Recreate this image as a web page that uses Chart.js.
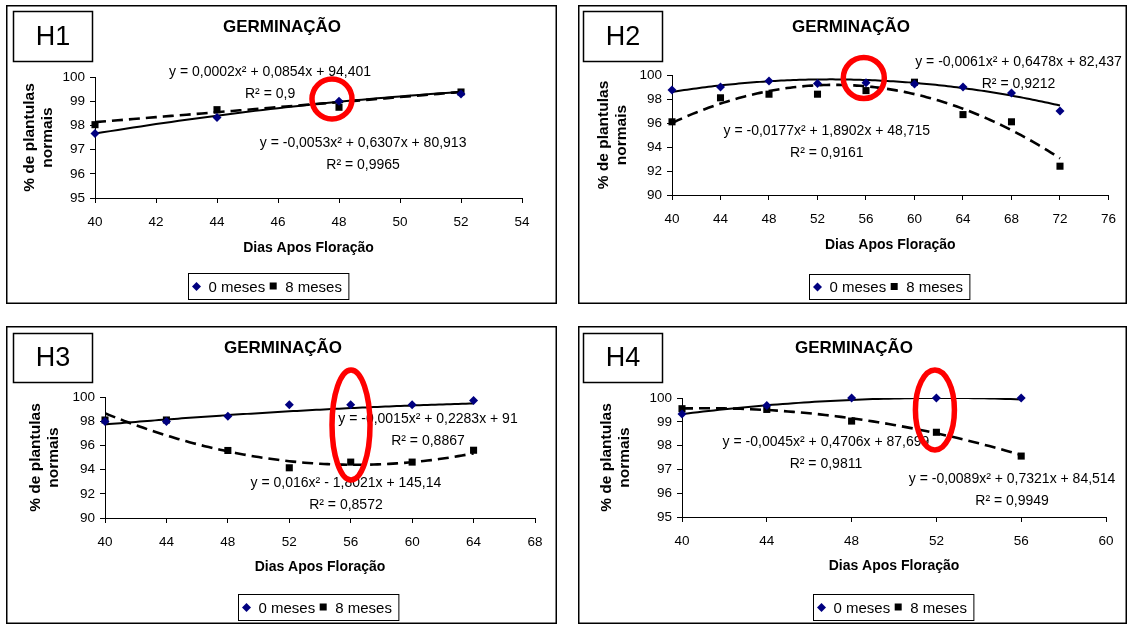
<!DOCTYPE html>
<html>
<head>
<meta charset="utf-8">
<script src="https://cdn.jsdelivr.net/npm/chart.js@4/dist/chart.umd.min.js"></script>
<style>
  html, body { margin: 0; padding: 0; background: #fff; width: 1129px; height: 626px; overflow: hidden; }
  canvas { position: absolute; }
</style>
</head>
<body>
<canvas id="h1" width="551" height="299" style="left:6px;top:5px"></canvas>
<canvas id="h2" width="549" height="299" style="left:578px;top:5px"></canvas>
<canvas id="h3" width="551" height="298" style="left:6px;top:326px"></canvas>
<canvas id="h4" width="549" height="298" style="left:578px;top:326px"></canvas>
<script>
// ---- H1 ----
const h1Days   = [40, 44, 48, 52];
const h1Germ0  = [97.67, 98.33, 99.0, 99.3];
const h1Germ8  = [98.03, 98.65, 98.75, 99.38];
const h1Coef0  = [-0.0053, 0.6307, 80.913];
const h1Coef8  = [0.0002, 0.0854, 94.401];
const h1Eq0    = ['y = -0,0053x² + 0,6307x + 80,913', 'R² = 0,9965'];
const h1Eq8    = ['y = 0,0002x² + 0,0854x + 94,401', 'R² = 0,9'];
const h1XTicks = [40, 42, 44, 46, 48, 50, 52, 54];
const h1YTicks = [95, 96, 97, 98, 99, 100];

// ---- H2 ----
const h2Days   = [40, 44, 48, 52, 56, 60, 64, 68, 72];
const h2Germ0  = [98.75, 99.0, 99.5, 99.3, 99.35, 99.25, 99.0, 98.5, 97.0];
const h2Germ8  = [96.1, 98.1, 98.4, 98.4, 98.7, 99.4, 96.7, 96.1, 92.4];
const h2Coef0  = [-0.0061, 0.6478, 82.437];
const h2Coef8  = [-0.0177, 1.8902, 48.715];
const h2Eq0    = ['y = -0,0061x² + 0,6478x + 82,437', 'R² = 0,9212'];
const h2Eq8    = ['y = -0,0177x² + 1,8902x + 48,715', 'R² = 0,9161'];
const h2XTicks = [40, 44, 48, 52, 56, 60, 64, 68, 72, 76];
const h2YTicks = [90, 92, 94, 96, 98, 100];

// ---- H3 ----
const h3Days   = [40, 44, 48, 52, 56, 60, 64];
const h3Germ0  = [97.97, 97.97, 98.4, 99.35, 99.35, 99.35, 99.72];
const h3Germ8  = [98.1, 98.1, 95.58, 94.15, 94.62, 94.62, 95.6];
const h3Coef0  = [-0.0015, 0.2283, 91];
const h3Coef8  = [0.016, -1.8021, 145.14];
const h3Eq0    = ['y = -0,0015x² + 0,2283x + 91', 'R² = 0,8867'];
const h3Eq8    = ['y = 0,016x² - 1,8021x + 145,14', 'R² = 0,8572'];
const h3XTicks = [40, 44, 48, 52, 56, 60, 64, 68];
const h3YTicks = [90, 92, 94, 96, 98, 100];

// ---- H4 ----
const h4Days   = [40, 44, 48, 52, 56];
const h4Germ0  = [99.33, 99.68, 100, 100, 100];
const h4Germ8  = [99.55, 99.52, 99.03, 98.56, 97.56];
const h4Coef0  = [-0.0045, 0.4706, 87.699];
const h4Coef8  = [-0.0089, 0.7321, 84.514];
const h4Eq0    = ['y = -0,0045x² + 0,4706x + 87,699', 'R² = 0,9811'];
const h4Eq8    = ['y = -0,0089x² + 0,7321x + 84,514', 'R² = 0,9949'];
const h4XTicks = [40, 44, 48, 52, 56, 60];
const h4YTicks = [95, 96, 97, 98, 99, 100];

const seriesNames = ['0 meses', '8 meses'];
const chartTitle = 'GERMINAÇÃO';
const xTitle = 'Dias Apos Floração';
const yTitle = ['% de plantulas', 'normais'];

const FONT = '"Liberation Sans", Arial, Helvetica, sans-serif';
Chart.defaults.font.family = FONT;
Chart.defaults.color = '#000';
Chart.defaults.animation = false;

// Trend curve from the printed quadratic coefficients, over the range of the data
function trendPoints(coef, days) {
  const pts = [];
  const a = days[0], b = days[days.length - 1];
  for (let x = a; x <= b + 1e-9; x += 0.25) {
    pts.push({ x, y: coef[0] * x * x + coef[1] * x + coef[2] });
  }
  return pts;
}

function diamond(ctx, x, y, r) {
  ctx.beginPath();
  ctx.moveTo(x, y - r); ctx.lineTo(x + r, y); ctx.lineTo(x, y + r); ctx.lineTo(x - r, y);
  ctx.closePath(); ctx.fill();
}

function buildPanel(p) {
  const canvas = document.getElementById(p.id);
  const W = canvas.width, H = canvas.height;
  const yTitleLH = 18;
  const xTitleLH = 17;
  const padLeft = p.yTitleX - yTitleLH / 2;
  const xScaleBottom = p.xTitleY + xTitleLH / 2;

  const decor = {
    id: 'decor' + p.id,
    afterDatasetsDraw(chart) {
      const ctx = chart.ctx;
      const sx = chart.scales.x, sy = chart.scales.y;
      ctx.save();
      ctx.fillStyle = '#000';
      ctx.font = '14px ' + FONT;
      ctx.textAlign = 'center';
      ctx.textBaseline = 'middle';
      p.labels.forEach(l => {
        const px = sx.getPixelForValue(l.at[0]);
        const py = sy.getPixelForValue(l.at[1]);
        l.text.forEach((t, i) => ctx.fillText(t, px, py + i * 22));
      });
      ctx.restore();
    },
    afterDraw(chart) {
      const ctx = chart.ctx;
      const sx = chart.scales.x, sy = chart.scales.y;
      ctx.save();
      // outer frame
      ctx.strokeStyle = '#000';
      ctx.lineWidth = 1.5;
      ctx.strokeRect(0.75, 0.75, W - 1.5, H - 1.5);
      // panel tag box
      const b = p.tagBox;
      ctx.strokeRect(b[0], b[1], b[2] - b[0], b[3] - b[1]);
      ctx.fillStyle = '#000';
      ctx.font = '27px ' + FONT;
      ctx.textAlign = 'center';
      ctx.textBaseline = 'middle';
      ctx.fillText(p.tag, (b[0] + b[2]) / 2, (b[1] + b[3]) / 2 + 1);
      // title
      ctx.font = 'bold 17px ' + FONT;
      ctx.fillText(chartTitle, p.titleX, 22);
      // legend
      const ds = chart.data.datasets;
      ctx.font = '15px ' + FONT;
      const w0 = ctx.measureText(ds[0].label).width;
      const w1 = ctx.measureText(ds[1].label).width;
      const total = 20 + w0 + 8 + 12 + w1 + 7;
      const lx = Math.round(p.legendX - total / 2) + 0.5;
      const lt = p.legendY[0] + 0.5, lb = p.legendY[1] + 0.5;
      const lc = (lt + lb) / 2;
      ctx.lineWidth = 1;
      ctx.strokeRect(lx, lt, total, lb - lt);
      ctx.fillStyle = ds[0].backgroundColor;
      diamond(ctx, lx + 8, lc, 4.5);
      ctx.fillStyle = '#000';
      ctx.textAlign = 'left';
      ctx.fillText(ds[0].label, lx + 20, lc + 1);
      const sqx = lx + 20 + w0 + 8;
      ctx.fillStyle = ds[1].backgroundColor;
      ctx.fillRect(sqx - 3.5, lc - 4, 7, 7);
      ctx.fillStyle = '#000';
      ctx.fillText(ds[1].label, sqx + 12, lc + 1);
      // red highlight ring
      ctx.strokeStyle = '#ff0000';
      ctx.lineWidth = 5.5;
      ctx.beginPath();
      ctx.ellipse(sx.getPixelForValue(p.ring.at[0]), sy.getPixelForValue(p.ring.at[1]),
                  p.ring.rx, p.ring.ry, 0, 0, Math.PI * 2);
      ctx.stroke();
      ctx.restore();
    }
  };

  const xs = p.xTicks, ys = p.yTicks;
  return new Chart(canvas, {
    type: 'scatter',
    data: {
      datasets: [
        {
          label: seriesNames[0],
          data: p.days.map((d, i) => ({ x: d, y: p.g0[i] })),
          pointStyle: 'rectRot', pointRadius: 4.5, pointHoverRadius: 4.5,
          backgroundColor: '#000080', borderColor: '#000080', borderWidth: 0,
          showLine: false, clip: false
        },
        {
          label: seriesNames[1],
          data: p.days.map((d, i) => ({ x: d, y: p.g8[i] })),
          pointStyle: 'rect', pointRadius: 5, pointHoverRadius: 5,
          backgroundColor: '#000000', borderColor: '#000000', borderWidth: 0,
          showLine: false, clip: false
        },
        {
          label: 'trend0',
          data: trendPoints(p.c0, p.days),
          showLine: true, pointRadius: 0, borderColor: '#000', borderWidth: 2,
          tension: 0, clip: 0
        },
        {
          label: 'trend8',
          data: trendPoints(p.c8, p.days),
          showLine: true, pointRadius: 0, borderColor: '#000', borderWidth: 2.6,
          borderDash: [11, 6], tension: 0, clip: 0
        }
      ]
    },
    options: {
      responsive: false,
      animation: false,
      events: [],
      layout: {
        padding: { left: padLeft, top: p.area[1], right: W - p.area[2], bottom: H - xScaleBottom }
      },
      plugins: { legend: { display: false }, tooltip: { enabled: false }, title: { display: false } },
      scales: {
        x: {
          type: 'linear', min: xs[0], max: xs[xs.length - 1],
          afterBuildTicks: s => { s.ticks = xs.map(v => ({ value: v })); },
          afterFit: s => { s.height = xScaleBottom - p.area[3]; },
          ticks: { padding: 11, font: { size: 13.5 }, color: '#000', maxRotation: 0, autoSkip: false },
          grid: { drawOnChartArea: false, drawTicks: true, tickLength: 5, color: '#000', lineWidth: 1 },
          border: { display: true, color: '#000', width: 1 },
          title: { display: true, text: xTitle, padding: 0,
                   font: { size: 14, weight: 'bold', lineHeight: xTitleLH / 14 } }
        },
        y: {
          type: 'linear', min: ys[0], max: ys[ys.length - 1],
          afterBuildTicks: s => { s.ticks = ys.map(v => ({ value: v })); },
          afterFit: s => { s.width = p.area[0] - padLeft; },
          ticks: { padding: 5, font: { size: 13.5 }, color: '#000' },
          grid: { drawOnChartArea: false, drawTicks: true, tickLength: 5, color: '#000', lineWidth: 1 },
          border: { display: true, color: '#000', width: 1 },
          title: { display: true, text: yTitle, padding: 0,
                   font: { size: 15.5, weight: 'bold', lineHeight: yTitleLH / 15.5 } }
        }
      }
    },
    plugins: [decor]
  });
}

buildPanel({
  id: 'h1', tag: 'H1', days: h1Days, g0: h1Germ0, g8: h1Germ8, c0: h1Coef0, c8: h1Coef8,
  xTicks: h1XTicks, yTicks: h1YTicks,
  area: [89, 72, 516, 193], yTitleX: 23.5, xTitleY: 243,
  tagBox: [7.5, 6.5, 86.5, 56.5], titleX: 276, legendX: 262, legendY: [268, 294],
  labels: [ { text: h1Eq8, at: [45.74, 100.21] }, { text: h1Eq0, at: [48.79, 97.27] } ],
  ring: { at: [47.77, 99.09], rx: 20, ry: 20 }
});
buildPanel({
  id: 'h2', tag: 'H2', days: h2Days, g0: h2Germ0, g8: h2Germ8, c0: h2Coef0, c8: h2Coef8,
  xTicks: h2XTicks, yTicks: h2YTicks,
  area: [94, 70, 531, 190], yTitleX: 26, xTitleY: 240,
  tagBox: [5.5, 6.5, 84.5, 56.5], titleX: 273, legendX: 311, legendY: [269, 294],
  labels: [ { text: h2Eq0, at: [68.58, 101.08] }, { text: h2Eq8, at: [52.77, 95.33] } ],
  ring: { at: [55.82, 99.75], rx: 20.5, ry: 20.5 }
});
buildPanel({
  id: 'h3', tag: 'H3', days: h3Days, g0: h3Germ0, g8: h3Germ8, c0: h3Coef0, c8: h3Coef8,
  xTicks: h3XTicks, yTicks: h3YTicks,
  area: [99, 71, 529, 192], yTitleX: 30, xTitleY: 241,
  tagBox: [7.5, 7.5, 86.5, 56.5], titleX: 277, legendX: 312, legendY: [268, 294],
  labels: [ { text: h3Eq0, at: [61.03, 98.18] }, { text: h3Eq8, at: [55.69, 92.89] } ],
  ring: { at: [56.02, 97.69], rx: 19, ry: 55 }
});
buildPanel({
  id: 'h4', tag: 'H4', days: h4Days, g0: h4Germ0, g8: h4Germ8, c0: h4Coef0, c8: h4Coef8,
  xTicks: h4XTicks, yTicks: h4YTicks,
  area: [104, 72, 528, 191], yTitleX: 29, xTitleY: 240,
  tagBox: [5.5, 7.5, 84.5, 56.5], titleX: 276, legendX: 315, legendY: [268, 294],
  labels: [ { text: h4Eq0, at: [46.79, 98.15] }, { text: h4Eq8, at: [55.57, 96.6] } ],
  ring: { at: [51.93, 99.5], rx: 19.5, ry: 40 }
});
</script>
</body>
</html>
